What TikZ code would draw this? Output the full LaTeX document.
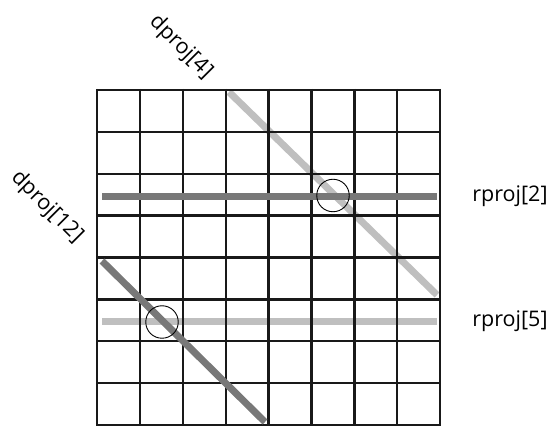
\documentclass[tikz,border=0pt]{standalone}
\usepackage{fontspec}
\setmainfont{Open Sans}
\begin{document}
\begin{tikzpicture}[x=1pt,y=-1pt,
  gridline/.style={line width=2.3pt,black!90},
  darkproj/.style={line width=7pt,color=black!53},
  lightproj/.style={line width=7pt,color=black!25},
  hit/.style={draw,circle,line width=0.9pt,minimum size=32.5pt,inner sep=0pt},
  lbl/.style={font=\fontsize{21.5}{21.5}\selectfont,inner sep=0pt}]
\useasboundingbox (0,0) rectangle (552,427);
% projection lines (under the grid)
\coordinate (l5a) at (102,322);
\coordinate (l5b) at (437,322);
\coordinate (d4a) at (229,92);
\coordinate (d4b) at (437,295);
\draw[lightproj] (l5a) -- (l5b);
\draw[lightproj] (d4a) -- (d4b);
% grid
\foreach \i in {0,...,8} {
  \draw[gridline] ({97+\i*42.9},89) -- ({97+\i*42.9},426);
  \draw[gridline] (96,{90+\i*41.875}) -- (441.2,{90+\i*41.875});
}
\coordinate (l2a) at (102,196.5);
\coordinate (l2b) at (437,196.5);
\coordinate (d12a) at (102,261);
\coordinate (d12b) at (265,422);
\draw[darkproj] (l2a) -- (l2b);
\draw[darkproj] (d12a) -- (d12b);
% intersections
\node[hit] (c1) at (333,195.5) {};
\node[hit] (c2) at (162,322) {};
% labels
\node[lbl,rotate=-45] (t4) at (181,47) {dproj[4]};
\node[lbl,rotate=-45] (t12) at (47,207) {dproj[12]};
\node[lbl] (r2) at (510,196) {rproj[2]};
\node[lbl] (r5) at (510,321) {rproj[5]};
\end{tikzpicture}
\end{document}
